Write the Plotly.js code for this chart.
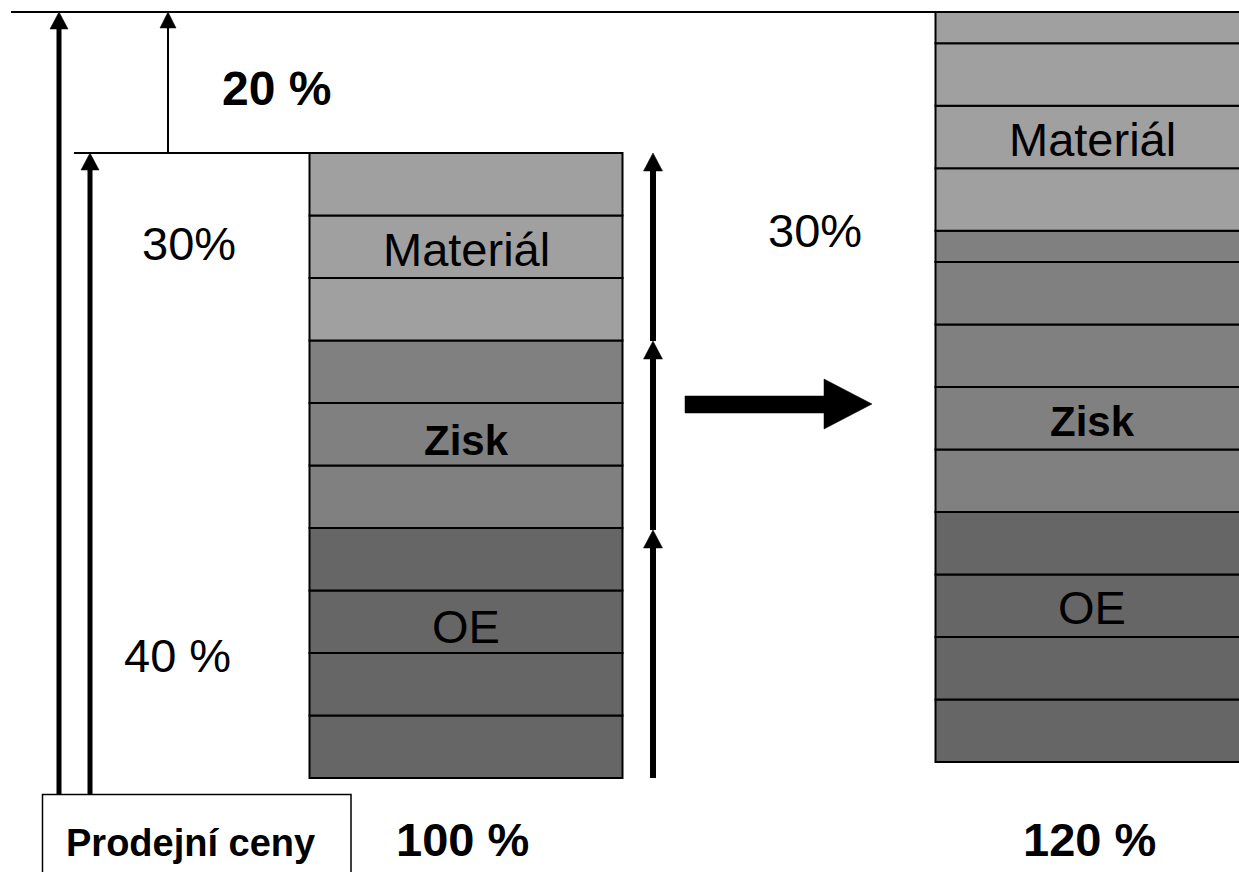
<!DOCTYPE html>
<html>
<head>
<meta charset="utf-8">
<script src="https://cdn.plot.ly/plotly-3.0.1.min.js"></script>
<style>html,body{margin:0;padding:0;background:#fff;}#chart{width:1239px;height:872px;}</style>
</head>
<body>
<div id="chart"></div>
<script>
// ---- data (percent of the original selling price) ----
const groupNames = ['OE', 'Zisk', 'Materiál'];
const groupColors = ['#666666', '#808080', '#a0a0a0'];
const leftOE = [10, 10, 10, 10];
const leftZisk = [10, 10, 10];
const leftMat = [10, 10, 10];
const rightOE = [10, 10, 10, 10];
const rightZisk = [10, 10, 10, 10, 5];
const rightMat = [10, 10, 10, 5];
const totalLabels = ['100 %', '120 %'];
const shareLabels = ['40 %', '30%', '20 %', '30%'];
const boxLabel = 'Prodejní ceny';

// ---- layout constants ----
const W = 1239, H = 872;
const PX_PER_PCT = 6.25, ZERO_PX = 778;
const py2y = p => (ZERO_PX - p) / PX_PER_PCT;
const leftX = 466, rightX = 1092, barW = 313;
const rightBase = py2y(762);

function buildTraces(x, base0, groups) {
  const traces = [];
  let cum = base0;
  groups.forEach((seg, gi) => {
    const bases = [];
    seg.forEach(v => { bases.push(cum); cum += v; });
    traces.push({
      type: 'bar', x: seg.map(() => x), y: seg, base: bases,
      width: seg.map(() => barW),
      marker: { color: groupColors[gi], line: { color: '#000', width: 2 } },
      hoverinfo: 'skip', showlegend: false
    });
  });
  return traces;
}
const traces = [
  ...buildTraces(leftX, 0, [leftOE, leftZisk, leftMat]),
  ...buildTraces(rightX, rightBase, [rightOE, rightZisk, rightMat])
];

// ---- shapes ----
const shapes = [];
function hline(x0, x1, p, w) {
  shapes.push({ type: 'line', xref: 'x', yref: 'y', x0: x0, x1: x1, y0: py2y(p), y1: py2y(p), line: { color: '#000', width: w } });
}
function upArrow(x, pFrom, pTo, shaftW, headW, headL) {
  shapes.push({ type: 'line', xref: 'x', yref: 'y', x0: x, x1: x, y0: py2y(pFrom), y1: py2y(pTo + headL - 1), line: { color: '#000', width: shaftW } });
  const path = 'M' + (x - headW / 2) + ',' + py2y(pTo + headL) + ' L' + x + ',' + py2y(pTo) + ' L' + (x + headW / 2) + ',' + py2y(pTo + headL) + ' Z';
  shapes.push({ type: 'path', xref: 'x', yref: 'y', path: path, fillcolor: '#000', line: { color: '#000', width: 0.5 } });
}
hline(11, W + 5, 12, 2);
hline(74, 388, 153, 2);
upArrow(59, 795, 12, 5, 18, 17);
upArrow(90, 795, 153, 5, 18, 17);
upArrow(168, 153, 12, 2, 16, 16);
upArrow(653, 778, 530, 6, 19, 18);
upArrow(653, 530, 341, 6, 19, 18);
upArrow(653, 341, 153, 6, 19, 18);
// big right arrow
(function () {
  const pts = [[685, 396], [824, 396], [824, 379], [872, 404], [824, 429], [824, 413], [685, 413]];
  const path = pts.map((p, i) => (i ? 'L' : 'M') + p[0] + ',' + py2y(p[1])).join(' ') + ' Z';
  shapes.push({ type: 'path', xref: 'x', yref: 'y', path: path, fillcolor: '#000', line: { color: '#000', width: 0.5 } });
})();
// box
shapes.push({ type: 'rect', xref: 'x', yref: 'y', x0: 42.5, x1: 351, y0: py2y(794.5), y1: py2y(880), line: { color: '#000', width: 1.5 }, fillcolor: 'rgba(0,0,0,0)' });

// ---- annotations ----
const F = 'Liberation Sans, Arial, sans-serif';
function txt(text, x, p, size, bold) {
  return { text: bold ? '<b>' + text + '</b>' : text, x: x, y: py2y(p), xref: 'x', yref: 'y', showarrow: false,
    xanchor: 'center', yanchor: 'middle', font: { family: F, size: size, color: '#000' } };
}
const annotations = [
  txt(groupNames[2], leftX, 249, 47, false),
  txt(groupNames[1], leftX, 440, 42, true),
  txt(groupNames[0], leftX, 626, 47, false),
  txt(groupNames[2], rightX, 139, 47, false),
  txt(groupNames[1], rightX, 421, 42, true),
  txt(groupNames[0], rightX, 607, 47, false),
  txt(shareLabels[0], 177, 655, 47, false),
  txt(shareLabels[1], 189, 243, 47, false),
  txt(shareLabels[2], 276, 88, 48, true),
  txt(shareLabels[3], 815, 230, 47, false),
  txt(totalLabels[0], 462, 839, 47, true),
  txt(totalLabels[1], 1089, 839, 47, true),
  txt(boxLabel, 190, 843, 38, true)
];

const layout = {
  width: W, height: H,
  margin: { l: 0, r: 0, t: 0, b: 0, pad: 0 },
  paper_bgcolor: '#fff', plot_bgcolor: '#fff',
  barmode: 'overlay',
  xaxis: { range: [0, W], visible: false, fixedrange: true },
  yaxis: { range: [py2y(H), py2y(0)], visible: false, fixedrange: true },
  shapes: shapes, annotations: annotations, showlegend: false
};
Plotly.newPlot('chart', traces, layout, { staticPlot: true, displayModeBar: false });
</script>
</body>
</html>
